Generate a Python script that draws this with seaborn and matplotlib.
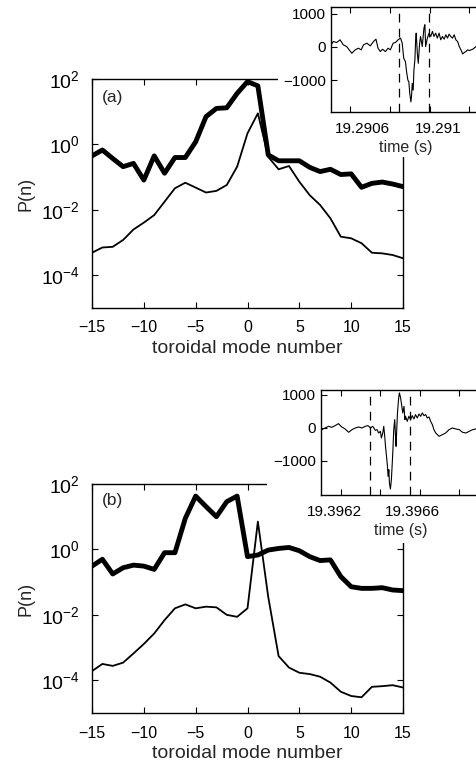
import numpy as np
import pandas as pd
import matplotlib
matplotlib.use('Agg')
import matplotlib.pyplot as plt
from matplotlib.patches import Rectangle
from matplotlib.ticker import FixedLocator
import seaborn as sns

sns.set_style('ticks')
plt.rcParams['font.family'] = ['Liberation Sans', 'DejaVu Sans']
plt.rcParams['mathtext.fontset'] = 'custom'
plt.rcParams['mathtext.rm'] = 'Liberation Sans'
plt.rcParams['mathtext.it'] = 'Liberation Sans'
plt.rcParams['mathtext.bf'] = 'Liberation Sans'

# -------------------------------
# data (log10 of P(n))
# -------------------------------
modes = np.arange(-15, 16)

log_p_a_thick = [-0.35, -0.17, -0.43, -0.68, -0.58, -1.09, -0.35, -0.88, -0.40, -0.40,
                 0.08, 0.85, 1.10, 1.12, 1.56, 1.92, 1.79, -0.32, -0.50, -0.50,
                 -0.50, -0.70, -0.83, -0.76, -0.92, -0.90, -1.31, -1.19, -1.15, -1.21, -1.29]
log_p_a_thin = [-3.31, -3.15, -3.13, -2.92, -2.60, -2.39, -2.16, -1.75, -1.34, -1.17,
                -1.32, -1.47, -1.42, -1.24, -0.68, 0.34, 0.95, -0.38, -0.76, -0.66,
                -1.14, -1.55, -1.85, -2.26, -2.82, -2.87, -3.02, -3.31, -3.33, -3.38, -3.48]

log_p_b_thick = [-0.51, -0.30, -0.75, -0.56, -0.48, -0.51, -0.61, -0.10, -0.10, 0.95,
                 1.63, 1.31, 1.00, 1.46, 1.63, -0.22, -0.17, -0.02, 0.03, 0.06,
                 -0.04, -0.22, -0.34, -0.32, -0.83, -1.14, -1.19, -1.19, -1.17, -1.24, -1.26]
log_p_b_thin = [-3.72, -3.50, -3.56, -3.46, -3.18, -2.89, -2.57, -2.16, -1.80, -1.68,
                -1.80, -1.75, -1.77, -2.00, -2.06, -1.80, 0.85, -1.45, -3.26, -3.61,
                -3.77, -3.81, -3.89, -4.07, -4.35, -4.48, -4.52, -4.20, -4.18, -4.15, -4.22]

# inset signals: time offset (microseconds from T0) and signal value
T0_a = 19.2906
t_a_us = [-165, -153, -135, -117, -100, -82, -55, -37, -20, -5, 7, 25, 43, 60, 73, 84, 96,
          108, 123, 137, 149, 164, 176, 190, 203, 212, 220, 229, 235, 242, 247, 252, 258,
          261, 265, 270, 274, 279, 283, 286, 292, 297, 304, 309, 318, 327, 332, 336, 345,
          354, 363, 372, 380, 389, 398, 407, 416, 425, 434, 443, 452, 460, 469, 478, 487,
          496, 505, 514, 523, 532, 540, 549, 558, 567, 585, 603, 612]
sig_a = [61, 162, 131, 212, 61, 10, -192, -91, -40, -91, 61, 111, 30, 162, 232, -40, -141,
         -71, -141, -40, -91, 111, 131, 212, 263, 111, -343, -444, -747, -1000, -1050, -1404,
         -1656, -1505, -1101, -1303, -697, -394, 212, 414, -192, -495, 111, 313, 10, 566, 667,
         10, 263, 414, 313, 465, 313, 414, 263, 414, 212, 313, 232, 364, 263, 384, 313, 263,
         364, 212, 162, 10, -91, -212, -172, -141, -91, -111, -71, 10, -40]
dash_a_us = [197, 352]

T0_b = 19.3962
t_b_us = [-63, -46, -29, -12, 5, 22, 39, 56, 74, 91, 108, 125, 142, 159, 173, 185, 197,
          210, 219, 227, 236, 241, 248, 253, 258, 262, 267, 272, 275, 279, 282, 287, 292,
          296, 299, 304, 309, 313, 316, 320, 323, 327, 330, 333, 339, 344, 350, 356, 361,
          364, 373, 381, 390, 398, 407, 415, 424, 433, 441, 450, 458, 467, 475, 484, 492,
          501, 509, 518, 527, 535, 552, 569, 586, 603, 621, 638, 655, 672, 689, 706, 723, 732]
sig_b = [-51, 0, 51, 20, 71, 131, 30, -30, -131, -51, 0, 30, 0, 51, 71, 0, 51, -71, -51,
         -152, -101, -303, -152, 51, -253, -556, -859, -1162, -1465, -1263, -1667, -1848,
         -1566, -1111, -758, -51, 253, -253, -556, 51, 455, 758, 960, 1061, 909, 707, 455,
         657, 253, 354, 202, 354, 253, 374, 273, 404, 303, 424, 354, 455, 374, 404, 303, 333,
         202, 101, -51, -152, -202, -253, -202, -152, -51, 0, -30, -51, -131, -152, -101,
         -51, -30, 0]
dash_b_us = [185, 385]

W, H = 477, 770


def px_box(left, top, right, bottom):
    return [left / W, 1 - bottom / H, (right - left) / W, (bottom - top) / H]


def style_axes(ax, size):
    ax.tick_params(which='both', direction='in', top=True, right=True,
                   labelsize=size, width=0.8, color='black', labelcolor='black')
    ax.tick_params(which='major', length=4)
    ax.tick_params(which='minor', length=4)
    for s in ax.spines.values():
        s.set_visible(True)
        s.set_linewidth(1.0)
        s.set_color('black')


def draw_main(ax, thick, thin, tag):
    df = pd.DataFrame({'n': modes, 'thick': 10.0 ** np.array(thick),
                       'thin': 10.0 ** np.array(thin)})
    sns.lineplot(data=df, x='n', y='thin', ax=ax, color='black', lw=1.3)
    sns.lineplot(data=df, x='n', y='thick', ax=ax, color='black', lw=3.5)
    ax.set_yscale('log')
    ax.set_xlim(-15, 15)
    ax.set_ylim(1e-5, 1e2)
    ax.set_xticks(np.arange(-15, 16, 5))
    ax.yaxis.set_major_locator(FixedLocator([1e-4, 1e-2, 1e0, 1e2]))
    ax.yaxis.set_minor_locator(FixedLocator([]))
    ax.set_xlabel('toroidal mode number', fontsize=14, labelpad=3)
    ax.set_ylabel('P(n)', fontsize=13, labelpad=4)
    ax.text(0.032, 0.92 if tag == '(a)' else 0.93, tag, transform=ax.transAxes,
            fontsize=12.5, ha='left', va='center')
    style_axes(ax, 11.5)
    ax.tick_params(axis='x', pad=9)
    ax.tick_params(axis='y', labelsize=14, pad=9)


def draw_inset(ax, t0, t_us, sig, dash_us, xlim_us, tick_us, labels):
    df = pd.DataFrame({'t': t0 + np.array(t_us) * 1e-6, 'v': sig})
    sns.lineplot(data=df, x='t', y='v', ax=ax, color='black', lw=0.8)
    for d in dash_us:
        ax.axvline(t0 + d * 1e-6, color='black', lw=0.9, ls=(0, (7, 5)))
    ax.set_xlim(t0 + xlim_us[0] * 1e-6, t0 + xlim_us[1] * 1e-6)
    ax.set_xticks([t0, t0 + 400e-6])
    ax.set_xticklabels(labels)
    ax.xaxis.set_minor_locator(FixedLocator([t0 + u * 1e-6 for u in tick_us]))
    ax.set_yticks([-1000, 0, 1000])
    ax.set_xlabel('time (s)', fontsize=11.5, labelpad=3)
    ax.set_ylabel('')
    style_axes(ax, 11)
    ax.tick_params(right=False)
    ax.tick_params(axis='x', which='major', length=0, pad=7)
    ax.tick_params(axis='x', which='minor', length=4)
    ax.set_facecolor('white')


fig = plt.figure(figsize=(W / 100, H / 100), dpi=100)

ax_a = fig.add_axes(px_box(92, 79, 403, 308))
ax_b = fig.add_axes(px_box(92, 484, 403, 713))
draw_main(ax_a, log_p_a_thick, log_p_a_thin, '(a)')
draw_main(ax_b, log_p_b_thick, log_p_b_thin, '(b)')

# white patches where the insets were pasted over the main panels
fig.add_artist(Rectangle((278 / W, 1 - 157 / H), 1, 157 / H, transform=fig.transFigure,
                         facecolor='white', edgecolor='none', zorder=1))
fig.add_artist(Rectangle((267 / W, 1 - 543 / H), 1, 163 / H, transform=fig.transFigure,
                         facecolor='white', edgecolor='none', zorder=1))

ins_a = fig.add_axes(px_box(331, 7, 481, 112))
ins_a.set_zorder(2)
draw_inset(ins_a, T0_a, t_a_us, sig_a, dash_a_us, (-165, 629),
           [-64, 149, 357, 565], ['19.2906', '19.291'])
ins_a.set_ylim(-1960, 1200)

ins_b = fig.add_axes(px_box(321, 390, 481, 495))
ins_b.set_zorder(2)
draw_inset(ins_b, T0_b, t_b_us, sig_b, dash_b_us, (-67, 749),
           [36, 236, 436, 636], ['19.3962', '19.3966'])
ins_b.set_ylim(-2030, 1150)

fig.savefig('out.png', dpi=100)
